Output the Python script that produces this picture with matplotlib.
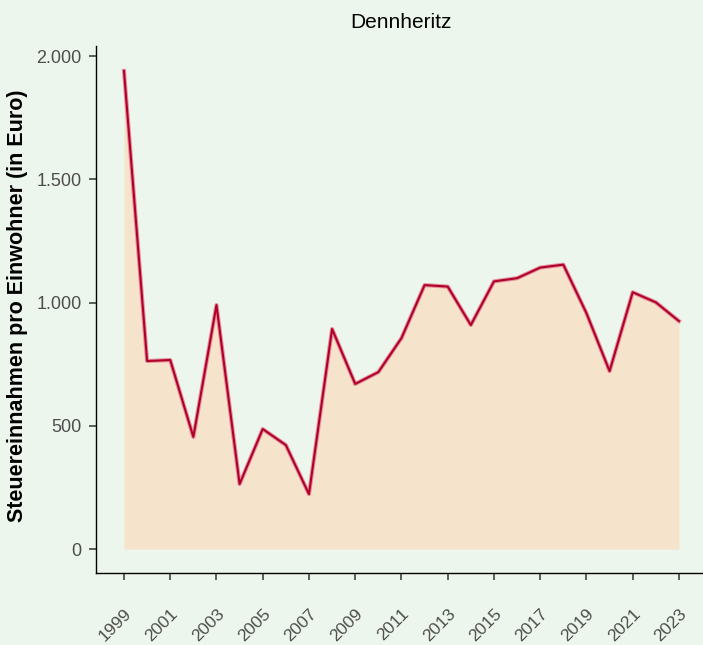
import matplotlib.pyplot as plt
import matplotlib.ticker as mticker
import numpy as np

plt.rcParams['font.family'] = ['Liberation Sans', 'DejaVu Sans']

years = list(range(1999, 2024))
steuer = [1940, 763, 767, 455, 990, 264, 487, 422, 223, 893, 670, 718, 856,
          1071, 1065, 909, 1086, 1099, 1142, 1154, 957, 722, 1042, 1001, 925]
gemeinde = "Dennheritz"

bg = "#EDF6EC"
fig = plt.figure(figsize=(7.03, 6.45), dpi=100, facecolor=bg)
ax = fig.add_axes([96/703, 1 - 573/645, 1 - 96/703, (573 - 46)/645])
ax.set_facecolor(bg)

ax.fill_between(years, 0, steuer, color="#F5E3CB", lw=0)
ax.plot(years, steuer, color="#E07A8E", lw=3.0, alpha=0.8, solid_joinstyle="round")
ax.plot(years, steuer, color="#B0002A", lw=1.5, solid_joinstyle="round")

ax.set_xlim(1997.79, 2024.04)
ax.set_ylim(-97, 2041)
ax.set_xticks(years[::2])
ax.set_xticklabels([str(y) for y in years[::2]], rotation=45, ha="right",
                   va="top", rotation_mode="anchor")
ax.set_yticks([0, 500, 1000, 1500, 2000])
ax.yaxis.set_major_formatter(mticker.FuncFormatter(lambda v, p: f"{int(v):,}".replace(",", ".")))

for s in ["top", "right"]:
    ax.spines[s].set_visible(False)
for s in ["left", "bottom"]:
    ax.spines[s].set_linewidth(1.0)
    ax.spines[s].set_color("black")
ax.tick_params(axis="both", length=5, width=1.1, color="#333333",
               labelcolor="#4D4D4D", labelsize=12.5)
ax.tick_params(axis="y", labelsize=13, pad=5.5)
ax.tick_params(axis="x", pad=19)

ax.set_ylabel("Steuereinnahmen pro Einwohner (in Euro)", fontsize=15.5,
              fontweight="bold")
ax.yaxis.set_label_coords(-68/607, (573 - 306)/527)
fig.text(401/703, 1 - 22/645, gemeinde, ha="center", va="center", fontsize=15)

fig.savefig("out.png", dpi=100, facecolor=bg)
